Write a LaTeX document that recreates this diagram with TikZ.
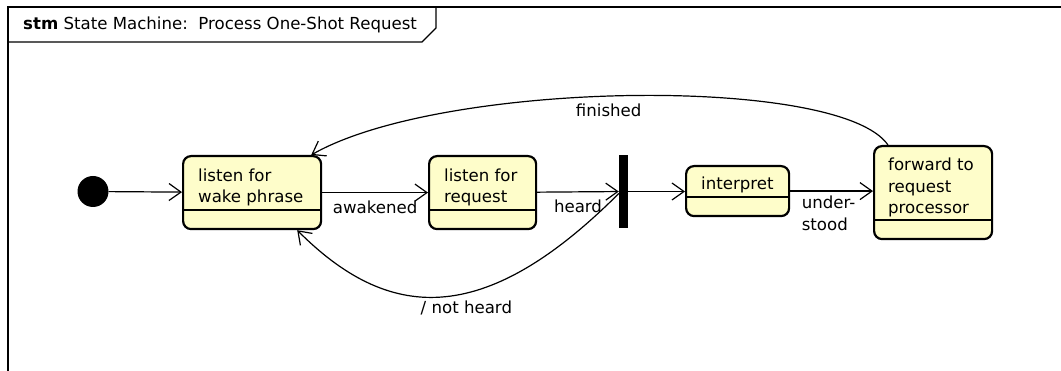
\documentclass[tikz,border=0pt]{standalone}
\usepackage{fontspec}
\setmainfont{DejaVu Sans}
\usetikzlibrary{arrows.meta}
\definecolor{stateyellow}{HTML}{FEFDCA}
\begin{document}
\begin{tikzpicture}[x=1pt,y=1pt,>={Straight Barb[length=12pt,width=17pt]},
    every node/.style={font=\fontsize{16.6}{21.5}\selectfont},
    state/.style={draw,line width=2.2pt,rounded corners=8pt,fill=stateyellow,inner sep=0pt,anchor=north west,
        path picture={\draw[line width=1.3pt] ([yshift=19pt]path picture bounding box.south west) -- ([yshift=19pt]path picture bounding box.south east);}},
    statetext/.style={align=left,anchor=north west,inner sep=0pt},
    trans/.style={->,line width=1.2pt}]
    \useasboundingbox (0,0) rectangle (1061,-371);
    \clip (0,0) rectangle (1061,-371);
    \draw[line width=1.8pt] (8,-400) -- (8,-7) -- (1100,-7);
    \draw[line width=1.2pt] (8,-42) -- (422,-42) -- (436,-28) -- (436,-7);
    \node[anchor=west,inner sep=0pt] (title) at (23,-25) {\textbf{stm} State Machine:\ \ Process One-Shot Request};

    \node[circle,fill=black,minimum size=31pt,inner sep=0pt] (S_init) at (93,-191.5) {};
    \node[state,minimum width=138pt,minimum height=73pt] (S_wake) at (182,-155) {};
    \node[statetext] (T_wake) at (198,-168.5) {listen for\\wake phrase};
    \node[state,minimum width=107pt,minimum height=73pt] (S_req) at (428,-155) {};
    \node[statetext] (T_req) at (444,-168.5) {listen for\\request};
    \node[fill=black,minimum width=9pt,minimum height=73pt,inner sep=0pt] (S_fork) at (623.5,-191.5) {};
    \node[state,minimum width=103pt,minimum height=50pt] (S_interp) at (685,-165) {};
    \node[statetext] (T_interp) at (701,-177) {interpret};
    \node[state,minimum width=118pt,minimum height=93pt] (S_fwd) at (873,-145) {};
    \node[statetext] (T_fwd) at (888,-158) {forward to\\request\\processor};

    \draw[trans] (S_init) -- (S_wake);
    \draw[trans] (S_wake) -- node[below=4pt] (L_awake) {awakened} (S_req);
    \draw[trans] (S_req) -- node[below=4pt] (L_heard) {heard} (S_fork);
    \draw[trans] (S_fork.east) -- (S_fork.east -| S_interp.west);
    \draw[trans] (S_interp) -- node[below=1pt,align=left,xshift=-3pt] (L_under) {under-\\stood} (S_interp -| S_fwd.west);
    \draw[trans] ([xshift=15pt]S_fwd.north west) .. controls +(-48,70) and +(131,75) .. node[pos=.53,below=4pt] (L_fin) {finished} ([xshift=-11pt]S_wake.north east);
    \draw[trans] ([yshift=-2pt]S_fork.west) .. controls +(-137,-137) and +(90,-90) .. node[pos=.5,below,xshift=26pt] (L_nh) {/ not heard} ([xshift=-25pt]S_wake.south east);
\end{tikzpicture}
\end{document}
